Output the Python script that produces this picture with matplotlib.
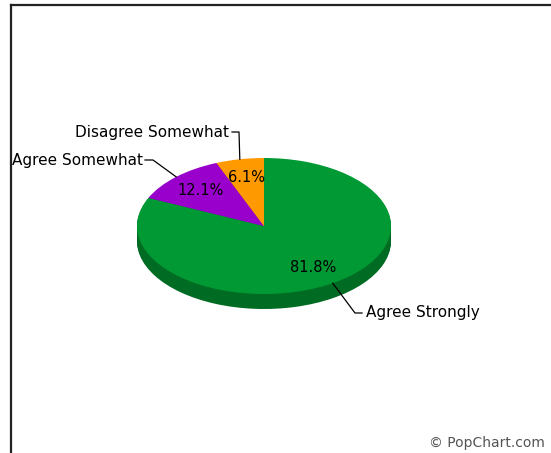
import matplotlib
matplotlib.use("Agg")
import matplotlib.pyplot as plt
import numpy as np
from matplotlib.lines import Line2D

labels = ["Agree Strongly", "Agree Somewhat", "Disagree Somewhat"]
values = [81.8, 12.1, 6.1]
colors = ["#009933", "#9900cc", "#ff9900"]
side_colors = ["#006b22", "#6b008f", "#b36b00"]

W, H = 551, 453
fig = plt.figure(figsize=(W / 100, H / 100), dpi=100)
fig.patch.set_facecolor("white")

# pie geometry in pixels (top face ellipse)
cx, cy = 264, 226
rx, ry = 127, 68
depth = 15

ax = fig.add_axes([(cx - rx) / W, (H - (cy + ry + depth)) / H,
                   2 * rx / W, (2 * ry + depth) / H])
d = depth / ry


def px(x, y):
    # pixel (from top-left) -> pie data coords
    return (x - cx) / rx, (cy - y) / ry


# side of the pie: stacked darker layers
nlay = 16
for k in range(nlay):
    ax.pie(values, colors=side_colors, startangle=90, counterclock=False,
           center=(0, -d + k * d / nlay), radius=1,
           wedgeprops=dict(linewidth=0))

wedges, texts, autotexts = ax.pie(
    values, colors=colors, startangle=90, counterclock=False,
    radius=1, autopct="%.1f%%", pctdistance=0.72,
    wedgeprops=dict(linewidth=0),
    textprops=dict(fontsize=10.5, color="black"))

ax.set_aspect("auto")
ax.set_xlim(-1, 1)
ax.set_ylim(-1 - d, 1)
ax.axis("off")

# leader lines and labels
lab_font = dict(fontsize=11, color="black")
for w, lab in zip(wedges, labels):
    th = np.deg2rad((w.theta1 + w.theta2) / 2)
    x0, y0 = np.cos(th), np.sin(th)
    if lab == "Agree Strongly":
        pts = [(x0, y0), px(355, 313), px(362, 313)]
        tx, ty = px(366, 313)
        ha = "left"
    elif lab == "Agree Somewhat":
        pts = [(x0, y0), px(153, 160), px(145, 160)]
        tx, ty = px(143, 160)
        ha = "right"
    else:
        pts = [(x0, y0), px(239, 132), px(232, 132)]
        tx, ty = px(229, 132)
        ha = "right"
    xs, ys = zip(*pts)
    ax.add_line(Line2D(xs, ys, color="black", linewidth=0.9, clip_on=False))
    ax.text(tx, ty, lab, ha=ha, va="center", clip_on=False, **lab_font)

# frame lines (top and left)
fig.add_artist(Line2D([10.5 / W, 1], [1 - 4.5 / H, 1 - 4.5 / H],
                      color="#222222", linewidth=1.6, transform=fig.transFigure))
fig.add_artist(Line2D([10.5 / W, 10.5 / W], [0, 1 - 4.5 / H],
                      color="#222222", linewidth=1.6, transform=fig.transFigure))

fig.text(545 / W, 1 - 443 / H, "\u00a9 PopChart.com", ha="right", va="center",
         fontsize=10, color="#555555")

fig.savefig("out.png", dpi=100)
